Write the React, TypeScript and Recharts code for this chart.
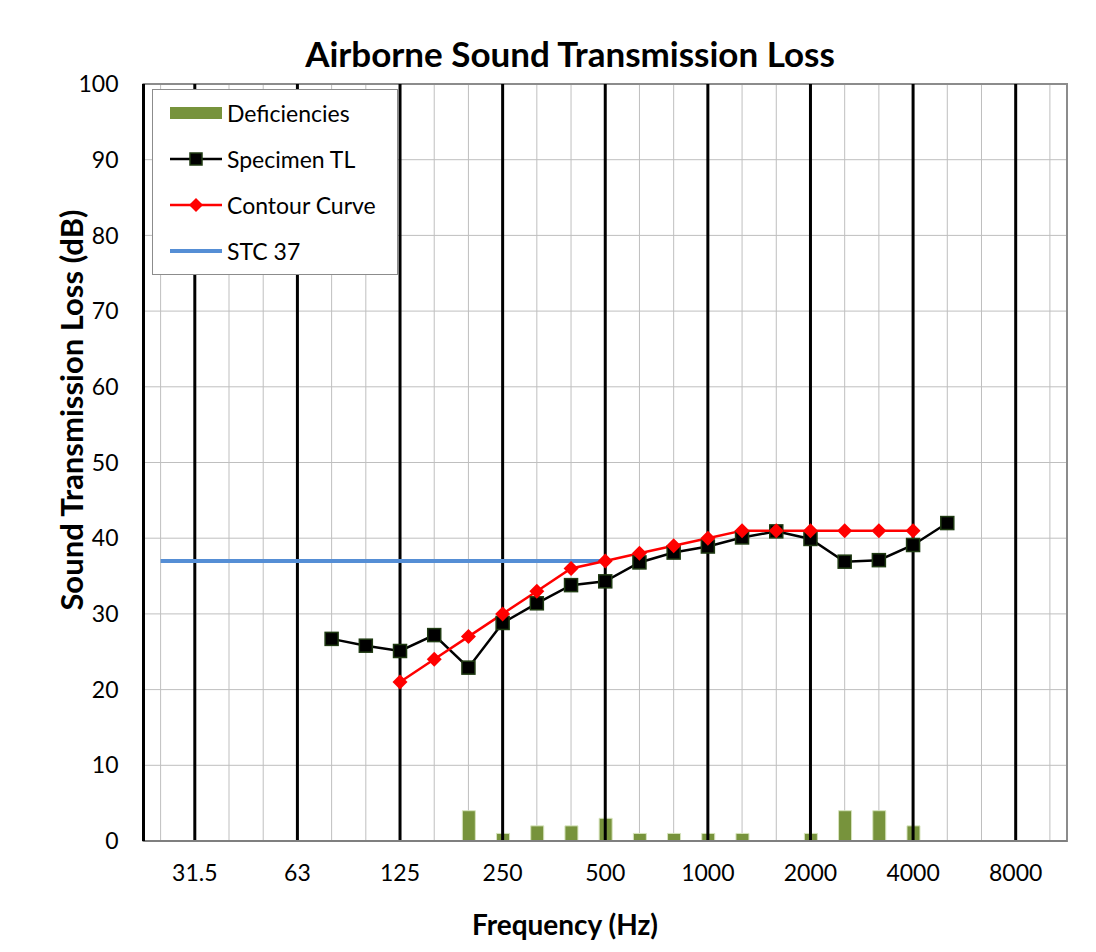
import {
  Bar,
  CartesianGrid,
  ComposedChart,
  Line,
  ReferenceArea,
  ReferenceLine,
  XAxis,
  YAxis,
} from "recharts";

// one-third octave band centre frequencies (Hz)
const bands = [
  "25", "31.5", "40", "50", "63", "80", "100", "125", "160", "200", "250", "315", "400", "500",
  "630", "800", "1000", "1250", "1600", "2000", "2500", "3150", "4000", "5000", "6300", "8000", "10000",
];
const octaveLabels = ["31.5", "63", "125", "250", "500", "1000", "2000", "4000", "8000"];

const specimenTL = [
  null, null, null, null, null, 26.7, 25.8, 25.1, 27.2, 22.9, 28.8, 31.4, 33.8, 34.3,
  36.8, 38.1, 38.9, 40.1, 40.9, 39.9, 36.9, 37.1, 39.1, 42.0, null, null, null,
];
const contour = [
  null, null, null, null, null, null, null, 21, 24, 27, 30, 33, 36, 37,
  38, 39, 40, 41, 41, 41, 41, 41, 41, null, null, null, null,
];
const deficiencies = [
  null, null, null, null, null, null, null, null, null, 4, 1, 2, 2, 3,
  1, 1, 1, 1, null, 1, 4, 4, 2, null, null, null, null,
];
const stc = [
  37, 37, 37, 37, 37, 37, 37, 37, 37, 37, 37, 37, 37, 37,
  null, null, null, null, null, null, null, null, null, null, null, null, null,
];
const yTicks = [0, 10, 20, 30, 40, 50, 60, 70, 80, 90, 100];

const data = bands.map((f, i) => ({
  freq: f,
  def: deficiencies[i],
  tl: specimenTL[i],
  contour: contour[i],
  stc: stc[i],
}));

const FONT = "Lato, 'Open Sans', sans-serif";

const SquareDot = (props: any) => {
  const { cx, cy, index } = props;
  if (cx == null || cy == null || props.value == null) return <g key={`s${index}`} />;
  return (
    <rect
      key={`s${index}`}
      x={cx - 6.5}
      y={cy - 6.5}
      width={13}
      height={13}
      fill="#000"
      stroke="#1F3A12"
      strokeWidth={1.5}
    />
  );
};

const DiamondDot = (props: any) => {
  const { cx, cy, index } = props;
  if (cx == null || cy == null || props.value == null) return <g key={`d${index}`} />;
  const r = 7.5;
  return (
    <polygon
      key={`d${index}`}
      points={`${cx},${cy - r} ${cx + r},${cy} ${cx},${cy + r} ${cx - r},${cy}`}
      fill="#FF0000"
    />
  );
};

function LegendBox() {
  const row = { display: "flex", alignItems: "center", height: 47 } as const;
  const txt = { fontSize: 23, color: "#000", marginLeft: 5 } as const;
  return (
    <div
      style={{
        position: "absolute",
        left: 144,
        top: 81,
        width: 246,
        height: 186,
        background: "#fff",
        border: "1px solid #8c8c8c",
        boxSizing: "border-box",
        fontFamily: FONT,
        padding: "0 0 0 17px",
        display: "flex",
        flexDirection: "column",
        justifyContent: "center",
      }}
    >
      <div style={row}>
        <svg width={52} height={16}>
          <rect x={0} y={2} width={52} height={12} fill="#77933C" />
        </svg>
        <span style={txt}>Deficiencies</span>
      </div>
      <div style={row}>
        <svg width={52} height={16}>
          <line x1={0} y1={8} x2={52} y2={8} stroke="#000" strokeWidth={2.5} />
          <rect x={20} y={2} width={12} height={12} fill="#000" stroke="#1F3A12" strokeWidth={1.5} />
        </svg>
        <span style={txt}>Specimen TL</span>
      </div>
      <div style={row}>
        <svg width={52} height={16}>
          <line x1={0} y1={8} x2={52} y2={8} stroke="#FF0000" strokeWidth={2.5} />
          <polygon points="26,1 33,8 26,15 19,8" fill="#FF0000" />
        </svg>
        <span style={txt}>Contour Curve</span>
      </div>
      <div style={row}>
        <svg width={52} height={16}>
          <line x1={0} y1={8} x2={52} y2={8} stroke="#558ED5" strokeWidth={4} />
        </svg>
        <span style={txt}>STC 37</span>
      </div>
    </div>
  );
}

export default function App() {
  return (
    <div
      style={{
        position: "relative",
        width: 1080,
        height: 936,
        overflow: "hidden",
        borderTop: "1px solid #8c8c8c",
        borderLeft: "1px solid #8c8c8c",
        background: "#fff",
        fontFamily: FONT,
        marginLeft: -1,
        marginTop: -1,
      }}
    >
      <div
        style={{
          position: "absolute",
          left: 0,
          width: 1124,
          top: 24,
          textAlign: "center",
          fontSize: 35,
          fontWeight: 700,
          whiteSpace: "nowrap",
        }}
      >
        Airborne Sound Transmission Loss
      </div>
      <div
        style={{
          position: "absolute",
          left: 0,
          width: 1114,
          top: 899,
          textAlign: "center",
          fontSize: 28,
          fontWeight: 700,
        }}
      >
        Frequency (Hz)
      </div>
      <div
        style={{
          position: "absolute",
          left: 63,
          top: 402,
          width: 0,
          height: 0,
        }}
      >
        <div
          style={{
            position: "absolute",
            transform: "translate(-50%, -50%) rotate(-90deg)",
            whiteSpace: "nowrap",
            fontSize: 31,
            fontWeight: 700,
          }}
        >
          Sound Transmission Loss (dB)
        </div>
      </div>

      <ComposedChart
        width={1079}
        height={935}
        data={data}
        margin={{ top: 76, right: 20, bottom: 72, left: 75.5 }}
        style={{ position: "absolute", left: 0, top: 0 }}
      >
        <CartesianGrid
          horizontal={{ stroke: "#7F7F7F", strokeWidth: 1.5 }}
          vertical={{ stroke: "#BFBFBF", strokeWidth: 2 }}
          stroke="#BFBFBF"
          strokeDasharray=""
        />
        <ReferenceArea y1={0} y2={100} fill="none" stroke="#8C8C8C" strokeWidth={2} />
        <XAxis
          dataKey="freq"
          interval={0}
          tickFormatter={(v: string) => (octaveLabels.includes(v) ? v : "")}
          tick={{ fill: "#000", fontSize: 23, fontFamily: FONT }}
          tickLine={false}
          tickSize={0}
          tickMargin={24}
          axisLine={{ stroke: "#7F7F7F", strokeWidth: 2 }}
        />
        <YAxis
          domain={[0, 100]}
          ticks={yTicks}
          width={60}
          tick={{ fill: "#000", fontSize: 23, fontFamily: FONT }}
          tickLine={false}
          tickSize={0}
          tickMargin={25}
          axisLine={{ stroke: "#000", strokeWidth: 3 }}
        />
        <Bar
          dataKey="def"
          barSize={13}
          fill="#77933C"
          stroke="#D7E4BD"
          strokeWidth={1}
          isAnimationActive={false}
        />
        {octaveLabels.map((f) => (
          <ReferenceLine key={f} x={f} stroke="#000" strokeWidth={3} />
        ))}
        <Line
          dataKey="stc"
          stroke="#558ED5"
          strokeWidth={4}
          dot={false}
          isAnimationActive={false}
        />
        <Line
          dataKey="tl"
          stroke="#000"
          strokeWidth={2.5}
          dot={SquareDot}
          isAnimationActive={false}
        />
        <Line
          dataKey="contour"
          stroke="#FF0000"
          strokeWidth={2.5}
          dot={DiamondDot}
          isAnimationActive={false}
        />
      </ComposedChart>
      <LegendBox />
    </div>
  );
}
